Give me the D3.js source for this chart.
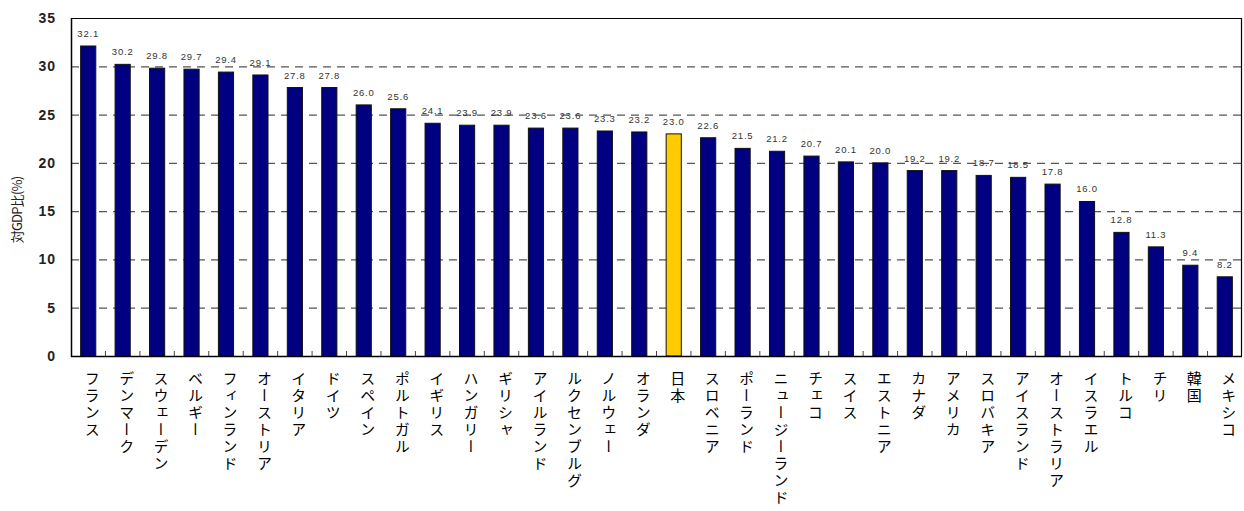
<!DOCTYPE html>
<html>
<head>
<meta charset="utf-8">
<script src="https://cdn.jsdelivr.net/npm/d3@7"></script>
<style>
  html, body { margin: 0; padding: 0; background: #fff; }
  svg { display: block; }
</style>
</head>
<body>
<div id="chart"></div>
<script>
// countries and tax+social security burden (% of GDP)
const countries = ["フランス", "デンマーク", "スウェーデン", "ベルギー", "フィンランド", "オーストリア",
  "イタリア", "ドイツ", "スペイン", "ポルトガル", "イギリス", "ハンガリー", "ギリシャ", "アイルランド",
  "ルクセンブルグ", "ノルウェー", "オランダ", "日本", "スロベニア", "ポーランド", "ニュージーランド",
  "チェコ", "スイス", "エストニア", "カナダ", "アメリカ", "スロバキア", "アイスランド", "オーストラリア",
  "イスラエル", "トルコ", "チリ", "韓国", "メキシコ"];
const values = [32.1, 30.2, 29.8, 29.7, 29.4, 29.1, 27.8, 27.8, 26.0, 25.6, 24.1, 23.9, 23.9, 23.6,
  23.6, 23.3, 23.2, 23.0, 22.6, 21.5, 21.2, 20.7, 20.1, 20.0, 19.2, 19.2, 18.7, 18.5, 17.8,
  16.0, 12.8, 11.3, 9.4, 8.2];
const yTicks = [0, 5, 10, 15, 20, 25, 30, 35];
const highlight = "日本";

const width = 1244, height = 511;
const margin = { top: 18, right: 2, bottom: 155, left: 71 };

const svg = d3.select("#chart").append("svg")
  .attr("width", width)
  .attr("height", height);

const x = d3.scaleBand()
  .domain(countries)
  .range([margin.left, width - margin.right])
  .paddingInner(0.56)
  .paddingOuter(0.28);

const y = d3.scaleLinear()
  .domain([0, 35])
  .range([height - margin.bottom, margin.top]);

// dashed gridlines
svg.append("g")
  .selectAll("line")
  .data(yTicks.filter(d => d > 0 && d < 35))
  .join("line")
  .attr("x1", margin.left)
  .attr("x2", width - margin.right)
  .attr("y1", d => y(d) + 0.5)
  .attr("y2", d => y(d) + 0.5)
  .attr("stroke", "#555")
  .attr("stroke-width", 1.2)
  .attr("stroke-dasharray", "8,6");

// frame (top + right)
svg.append("path")
  .attr("d", `M${margin.left},${y(35) + 0.5}H${width - margin.right - 0.5}V${y(0)}`)
  .attr("fill", "none")
  .attr("stroke", "#000")
  .attr("stroke-width", 1.2);

// bars
svg.append("g")
  .selectAll("rect")
  .data(countries)
  .join("rect")
  .attr("x", d => x(d))
  .attr("y", (d, i) => y(values[i]))
  .attr("width", x.bandwidth())
  .attr("height", (d, i) => y(0) - y(values[i]))
  .attr("fill", d => d === highlight ? "#FFCC00" : "#000080")
  .attr("stroke", "#111")
  .attr("stroke-width", 1);

// value labels
svg.append("g")
  .selectAll("text")
  .data(countries)
  .join("text")
  .attr("x", d => x(d) + x.bandwidth() / 2)
  .attr("y", (d, i) => y(values[i]) - 9)
  .attr("text-anchor", "middle")
  .attr("font-family", "Liberation Sans, Arial, sans-serif")
  .attr("font-size", 9.5)
  .attr("letter-spacing", 0.8)
  .attr("fill", "#333")
  .text((d, i) => values[i].toFixed(1));

// small inward ticks between categories
const step = x.step();
svg.append("g")
  .selectAll("line")
  .data(countries.slice(1))
  .join("line")
  .attr("x1", d => x(d) - x.paddingInner() * step / 2)
  .attr("x2", d => x(d) - x.paddingInner() * step / 2)
  .attr("y1", y(0))
  .attr("y2", y(0) - 5)
  .attr("stroke", "#444")
  .attr("stroke-width", 1);

// axes lines
svg.append("line")
  .attr("x1", margin.left + 0.5).attr("x2", margin.left + 0.5)
  .attr("y1", y(35)).attr("y2", y(0) + 1)
  .attr("stroke", "#000").attr("stroke-width", 1.5);
svg.append("line")
  .attr("x1", margin.left).attr("x2", width - margin.right)
  .attr("y1", y(0) + 0.5).attr("y2", y(0) + 0.5)
  .attr("stroke", "#000").attr("stroke-width", 1.5);

// y tick labels
svg.append("g")
  .selectAll("text")
  .data(yTicks)
  .join("text")
  .attr("x", 56)
  .attr("y", d => y(d) + 5)
  .attr("text-anchor", "end")
  .attr("font-family", "Liberation Sans, Arial, sans-serif")
  .attr("font-weight", "bold")
  .attr("font-size", 14)
  .attr("letter-spacing", 1)
  .attr("fill", "#222")
  .text(d => d);

// y axis title
svg.append("text")
  .attr("transform", `translate(22,${(y(0) + y(35)) / 2 + 23}) rotate(-90)`)
  .attr("text-anchor", "middle")
  .attr("font-family", "Noto Sans CJK JP, sans-serif")
  .attr("font-size", 13)
  .attr("letter-spacing", -0.8)
  .attr("fill", "#222")
  .text("対GDP比(%)");

// vertical category labels
svg.append("g")
  .selectAll("text")
  .data(countries)
  .join("text")
  .attr("x", d => x(d) + x.bandwidth() / 2 + 4)
  .attr("y", y(0) + 15)
  .style("writing-mode", "vertical-rl")
  .style("text-orientation", "upright")
  .attr("font-family", "Noto Sans CJK JP, sans-serif")
  .attr("font-size", 15)
  .attr("letter-spacing", 2)
  .attr("fill", "#000")
  .text(d => d);
</script>
</body>
</html>
